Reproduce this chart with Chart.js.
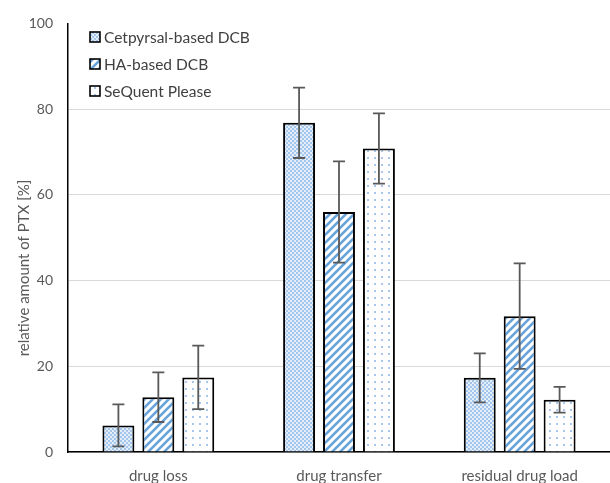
<!DOCTYPE html>
<html>
<head>
<meta charset="utf-8">
<script src="https://cdn.jsdelivr.net/npm/chart.js@4"></script>
<style>
  body { margin: 0; background: #fff; }
  #wrap { width: 610px; height: 483px; }
</style>
</head>
<body>
<div id="wrap"><canvas id="chart"></canvas></div>
<script>
const categories = ["drug loss", "drug transfer", "residual drug load"];
const seriesNames = ["Cetpyrsal-based DCB", "HA-based DCB", "SeQuent Please"];
const cetpyrsal = [6.2, 76.8, 17.3];
const cetpyrsalErr = [4.9, 8.2, 5.7];
const ha = [12.8, 56.0, 31.7];
const haErr = [5.8, 11.8, 12.3];
const sequent = [17.4, 70.8, 12.2];
const sequentErr = [7.4, 8.2, 3.0];
const yTicks = [0, 20, 40, 60, 80, 100];

const FONT = "Lato, 'Open Sans', sans-serif";

// fill patterns, Excel style
function tile(size, draw) {
  const c = document.createElement("canvas");
  c.width = size; c.height = size;
  const g = c.getContext("2d");
  draw(g, size);
  return g.createPattern(c, "repeat");
}

const checker = tile(4, (g) => {
  g.fillStyle = "#e4eefa"; g.fillRect(0, 0, 4, 4);
  g.fillStyle = "#a4c6ec";
  g.fillRect(0, 0, 2, 2); g.fillRect(2, 2, 2, 2);
});

const stripes = tile(8, (g, s) => {
  g.fillStyle = "#fff"; g.fillRect(0, 0, s, s);
  g.strokeStyle = "#67a3da"; g.lineWidth = 2.6;
  [[0, s, s, 0], [-s / 2, s / 2, s / 2, -s / 2], [s / 2, s * 1.5, s * 1.5, s / 2]].forEach(l => {
    g.beginPath(); g.moveTo(l[0], l[1]); g.lineTo(l[2], l[3]); g.stroke();
  });
});

const dots = tile(7, (g, s) => {
  g.fillStyle = "#fff"; g.fillRect(0, 0, s, s);
  g.fillStyle = "#a6c8ec"; g.fillRect(3, 3, 2, 2);
});

const fills = [checker, stripes, dots];
const errs = [cetpyrsalErr, haErr, sequentErr];

const errorBars = {
  id: "errorBars",
  afterDatasetsDraw(chart) {
    const ctx = chart.ctx;
    const y = chart.scales.y;
    ctx.save();
    ctx.strokeStyle = "#595959";
    ctx.lineWidth = 1.8;
    chart.data.datasets.forEach((ds, di) => {
      chart.getDatasetMeta(di).data.forEach((bar, i) => {
        const v = ds.data[i], e = errs[di][i];
        const top = y.getPixelForValue(v + e);
        const bot = y.getPixelForValue(v - e);
        ctx.beginPath();
        ctx.moveTo(bar.x, top); ctx.lineTo(bar.x, bot);
        ctx.moveTo(bar.x - 6, top); ctx.lineTo(bar.x + 6, top);
        ctx.moveTo(bar.x - 6, bot); ctx.lineTo(bar.x + 6, bot);
        ctx.stroke();
      });
    });
    ctx.restore();
  }
};

const insideLegend = {
  id: "insideLegend",
  afterDraw(chart) {
    const ctx = chart.ctx;
    ctx.save();
    ctx.font = "15.5px " + FONT;
    ctx.textBaseline = "middle";
    chart.data.datasets.forEach((ds, i) => {
      const cy = 37 + i * 27;
      ctx.fillStyle = ds.backgroundColor;
      ctx.fillRect(90, cy - 5, 10, 10);
      ctx.strokeStyle = "#000"; ctx.lineWidth = 1.6;
      ctx.strokeRect(90, cy - 5, 10, 10);
      ctx.fillStyle = "#404040";
      ctx.fillText(ds.label, 104, cy + 1);
    });
    // y axis title
    ctx.translate(24, 268);
    ctx.rotate(-Math.PI / 2);
    ctx.textAlign = "center";
    ctx.font = "15px " + FONT;
    ctx.fillStyle = "#595959";
    ctx.fillText("relative amount of PTX [%]", 0, 0);
    ctx.restore();
  }
};

new Chart(document.getElementById("chart"), {
  type: "bar",
  data: {
    labels: categories,
    datasets: [cetpyrsal, ha, sequent].map((d, i) => ({
      label: seriesNames[i],
      data: d,
      backgroundColor: fills[i],
      borderColor: "#000",
      borderWidth: 2,
      borderSkipped: "bottom",
      categoryPercentage: 0.663,
      barPercentage: 0.8
    }))
  },
  options: {
    responsive: true,
    maintainAspectRatio: false,
    animation: false,
    layout: { padding: { top: 19, right: 0, left: 0, bottom: 0 } },
    plugins: { legend: { display: false }, tooltip: { enabled: false } },
    scales: {
      x: {
        grid: { display: false },
        border: { color: "#000", width: 1.5 },
        ticks: { color: "#595959", font: { family: FONT, size: 15 }, padding: 7 },
        afterFit: (s) => { s.height = 31; }
      },
      y: {
        min: 0, max: 100,
        afterBuildTicks: (s) => { s.ticks = yTicks.map(v => ({ value: v })); },
        grid: {
          color: (c) => c.tick && c.tick.value === 100 ? "rgba(0,0,0,0)" : "#d9d9d9",
          drawTicks: false
        },
        border: { color: "#000", width: 1.5 },
        ticks: { color: "#595959", font: { family: FONT, size: 14 }, padding: 15 },
        afterFit: (s) => { s.width = 68; }
      }
    }
  },
  plugins: [errorBars, insideLegend]
});
</script>
</body>
</html>
